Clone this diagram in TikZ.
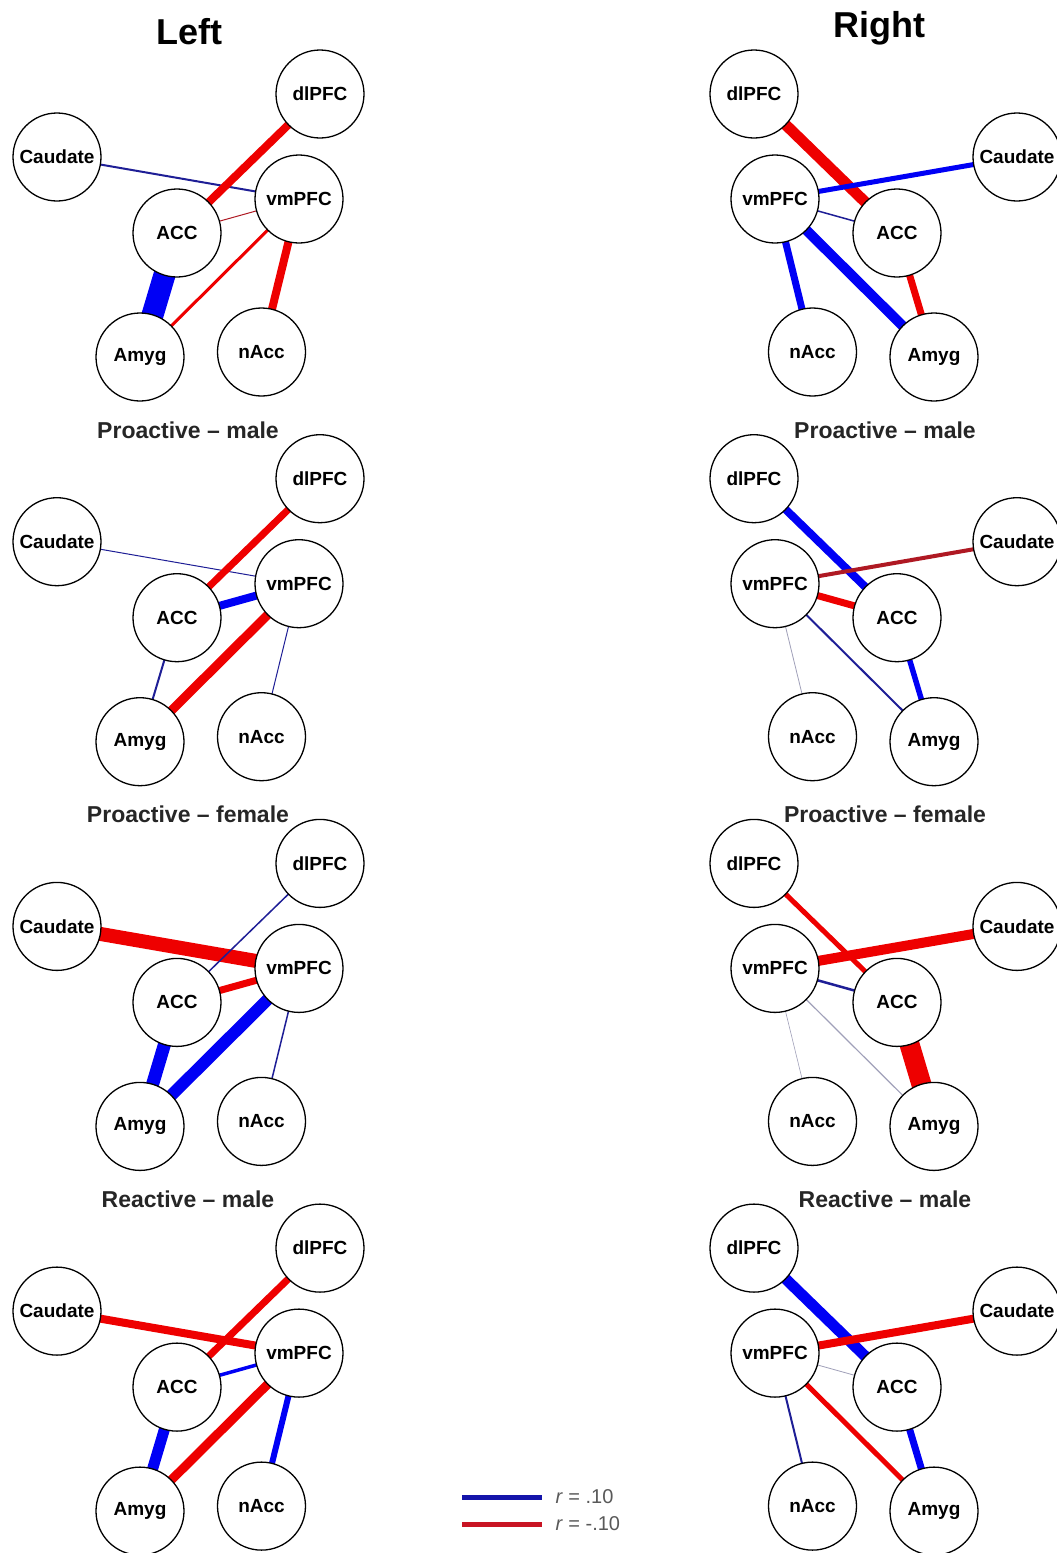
\documentclass[tikz,border=0pt]{standalone}
\usepackage{fontspec}
\setmainfont{Liberation Sans}
\usetikzlibrary{backgrounds}
\pgfdeclarelayer{bottom}
\pgfsetlayers{bottom,background,main}
\definecolor{posc}{RGB}{0,0,245}
\definecolor{negc}{RGB}{238,0,0}
\definecolor{posthin}{RGB}{30,30,150}
\definecolor{negthin}{RGB}{175,25,35}
\definecolor{faint}{RGB}{160,160,185}
\definecolor{legpos}{RGB}{20,20,170}
\definecolor{legneg}{RGB}{200,20,35}
\tikzset{
  region/.style={circle, draw=black, line width=1.3pt, fill=white, minimum size=88pt, inner sep=0pt, font=\bfseries\fontsize{19}{19}\selectfont},
  pos/.style={draw=posc, line width=#1},
  neg/.style={draw=negc, line width=#1},
  posT/.style={draw=posthin, line width=#1},
  negT/.style={draw=negthin, line width=#1},
  faintT/.style={draw=faint, line width=#1},
  caption/.style={font=\bfseries\fontsize{23}{23}\selectfont, text=black!85},
  heading/.style={font=\bfseries\fontsize{36}{36}\selectfont},
  legendtext/.style={font=\fontsize{20}{20}\selectfont, text=black!65, anchor=west}
}
\newcommand{\leftnet}[2]{%
  \node[region] (#1dl)  at (320,{94+#2})   {dlPFC};
  \node[region] (#1cau) at (57,{157+#2})   {Caudate};
  \node[region] (#1vm)  at (299,{199+#2})  {vmPFC};
  \node[region] (#1acc) at (177,{233+#2})  {ACC};
  \node[region] (#1amy) at (140,{357+#2})  {Amyg};
  \node[region] (#1nac) at (261.5,{352+#2}) {nAcc};
}
\newcommand{\rightnet}[2]{%
  \node[region] (#1dl)  at (754,{94+#2})   {dlPFC};
  \node[region] (#1cau) at (1017,{157+#2}) {Caudate};
  \node[region] (#1vm)  at (775,{199+#2})  {vmPFC};
  \node[region] (#1acc) at (897,{233+#2})  {ACC};
  \node[region] (#1amy) at (934,{357+#2})  {Amyg};
  \node[region] (#1nac) at (812.5,{352+#2}) {nAcc};
}
\begin{document}
\begin{tikzpicture}[x=1pt,y=-1pt]
\useasboundingbox (0,0) rectangle (1057,1553);
\begin{pgfonlayer}{bottom}
\fill[white] (0,0) rectangle (1057,1553);
\end{pgfonlayer}

% headings
\node[heading] (hL) at (189,32) {Left};
\node[heading] (hR) at (879,28) {Right};

% networks
\leftnet{La}{0}
\leftnet{Lb}{384.7}
\leftnet{Lc}{769.4}
\leftnet{Ld}{1154.1}
\rightnet{Ra}{0}
\rightnet{Rb}{384.7}
\rightnet{Rc}{769.4}
\rightnet{Rd}{1154.1}

% captions
\node[caption] (cLa) at (188,430) {Proactive – male};
\node[caption] (cLb) at (188,814.7) {Proactive – female};
\node[caption] (cLc) at (188,1199.4) {Reactive – male};
\node[caption] (cRa) at (885,430) {Proactive – male};
\node[caption] (cRb) at (885,814.7) {Proactive – female};
\node[caption] (cRc) at (885,1199.4) {Reactive – male};

\begin{scope}[on background layer]
% Left, panel a
\draw[posT=2]  (Lacau.center) -- (Lavm.center);
\draw[neg=8]   (Ladl.center) -- (Laacc.center);
\draw[negT=1]  (Laacc.center) -- (Lavm.center);
\draw[pos=22]  (Laacc.center) -- (Laamy.center);
\draw[neg=3]   (Laamy.center) -- (Lavm.center);
\draw[neg=8]   (Lavm.center) -- (Lanac.center);
% Left, panel b
\draw[posT=1]  (Lbcau.center) -- (Lbvm.center);
\draw[neg=7]   (Lbdl.center) -- (Lbacc.center);
\draw[pos=8]   (Lbacc.center) -- (Lbvm.center);
\draw[posT=2]  (Lbacc.center) -- (Lbamy.center);
\draw[neg=9]   (Lbamy.center) -- (Lbvm.center);
\draw[posT=1]  (Lbvm.center) -- (Lbnac.center);
% Left, panel c
\draw[neg=14]  (Lccau.center) -- (Lcvm.center);
\draw[posT=1.5] (Lcdl.center) -- (Lcacc.center);
\draw[neg=7]   (Lcacc.center) -- (Lcvm.center);
\draw[pos=13]  (Lcacc.center) -- (Lcamy.center);
\draw[pos=12]  (Lcamy.center) -- (Lcvm.center);
\draw[posT=1.5] (Lcvm.center) -- (Lcnac.center);
% Left, panel d
\draw[neg=8]   (Ldcau.center) -- (Ldvm.center);
\draw[neg=7]   (Lddl.center) -- (Ldacc.center);
\draw[pos=3.5] (Ldacc.center) -- (Ldvm.center);
\draw[pos=11]  (Ldacc.center) -- (Ldamy.center);
\draw[neg=9]   (Ldamy.center) -- (Ldvm.center);
\draw[pos=6]   (Ldvm.center) -- (Ldnac.center);
% Right, panel a
\draw[neg=11]  (Radl.center) -- (Raacc.center);
\draw[pos=5]   (Racau.center) -- (Ravm.center);
\draw[posT=1.5] (Ravm.center) -- (Raacc.center);
\draw[pos=7]   (Ravm.center) -- (Ranac.center);
\draw[pos=10]  (Ravm.center) -- (Raamy.center);
\draw[neg=7]   (Raacc.center) -- (Raamy.center);
% Right, panel b
\draw[pos=8]   (Rbdl.center) -- (Rbacc.center);
\draw[negT=4]  (Rbcau.center) -- (Rbvm.center);
\draw[neg=7]   (Rbvm.center) -- (Rbacc.center);
\draw[faintT=0.8] (Rbvm.center) -- (Rbnac.center);
\draw[posT=2]  (Rbvm.center) -- (Rbamy.center);
\draw[pos=5.5] (Rbacc.center) -- (Rbamy.center);
% Right, panel c
\draw[neg=5]   (Rcdl.center) -- (Rcacc.center);
\draw[neg=10]  (Rccau.center) -- (Rcvm.center);
\draw[posT=2.5] (Rcvm.center) -- (Rcacc.center);
\draw[faintT=0.6] (Rcvm.center) -- (Rcnac.center);
\draw[faintT=1.2] (Rcvm.center) -- (Rcamy.center);
\draw[neg=20]  (Rcacc.center) -- (Rcamy.center);
% Right, panel d
\draw[pos=11]  (Rddl.center) -- (Rdacc.center);
\draw[neg=8]   (Rdcau.center) -- (Rdvm.center);
\draw[faintT=0.8] (Rdvm.center) -- (Rdacc.center);
\draw[posT=2]  (Rdvm.center) -- (Rdnac.center);
\draw[neg=5]   (Rdvm.center) -- (Rdamy.center);
\draw[pos=7]   (Rdacc.center) -- (Rdamy.center);
\end{scope}

% legend
\coordinate (lgA1) at (462,1497);
\coordinate (lgA2) at (542,1497);
\coordinate (lgB1) at (462,1524);
\coordinate (lgB2) at (542,1524);
\draw[draw=legpos, line width=5] (lgA1) -- (lgA2);
\draw[draw=legneg, line width=5] (lgB1) -- (lgB2);
\node[legendtext] (lgtA) at (552,1497) {\textit{r} = .10};
\node[legendtext] (lgtB) at (552,1524) {\textit{r} = -.10};
\end{tikzpicture}
\end{document}
